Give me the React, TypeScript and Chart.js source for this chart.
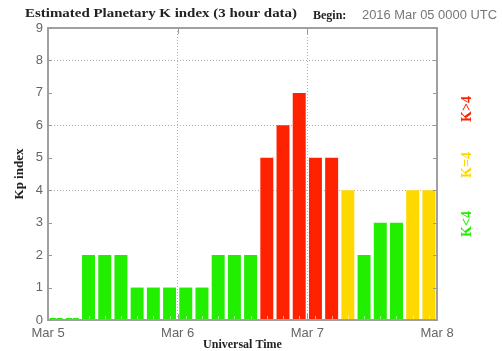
import React, { useEffect, useRef } from "react";
import { Chart, registerables } from "chart.js";

Chart.register(...registerables);

// ---- data ----
const dayLabels = ["Mar 5", "Mar 6", "Mar 7", "Mar 8"];
const kpValues = [0, 0, 2, 2, 2, 1, 1, 1, 1, 1, 2, 2, 2, 5, 6, 7, 5, 5, 4, 2, 3, 3, 4, 4];
const yTicks = [0, 1, 2, 3, 4, 5, 6, 7, 8, 9];
const titleText = "Estimated Planetary K index (3 hour data)";
const beginLabel = "Begin:";
const beginText = "2016 Mar 05 0000 UTC";
const yTitle = "Kp index";
const xTitle = "Universal Time";
const legendLabels = ["K>4", "K=4", "K<4"];

const GREEN = "#22ee00";
const YELLOW = "#ffd800";
const RED = "#ff2200";

function colorFor(v: number) {
  if (v > 4) return RED;
  if (v === 4) return YELLOW;
  return GREEN;
}

const SERIF_BOLD = "bold 13px 'Liberation Serif', 'DejaVu Serif', serif";

const decor = {
  id: "decor",
  beforeDraw(chart: any) {
    const ctx = chart.ctx;
    ctx.save();
    ctx.fillStyle = "#fff";
    ctx.fillRect(0, 0, chart.width, chart.height);
    ctx.restore();
  },
  afterDatasetsDraw(chart: any) {
    const ctx = chart.ctx;
    const a = chart.chartArea;
    const xs = chart.scales.x;
    const ys = chart.scales.y;
    ctx.save();
    // minor ticks at bottom (bar centres)
    ctx.strokeStyle = "rgba(255,255,255,0.55)";
    ctx.lineWidth = 1;
    kpValues.forEach((_, i) => {
      const px = Math.round(xs.getPixelForValue(i + 0.5)) + 0.5;
      ctx.beginPath();
      ctx.moveTo(px, a.bottom);
      ctx.lineTo(px, a.bottom - 4);
      ctx.stroke();
    });
    // frame
    ctx.strokeStyle = "#a0a0a0";
    ctx.lineWidth = 2;
    ctx.strokeRect(a.left, a.top, a.right - a.left, a.bottom - a.top);
    // y tick marks, inward, both sides
    ctx.lineWidth = 1;
    ctx.strokeStyle = "#999";
    yTicks.forEach((t) => {
      const py = Math.round(ys.getPixelForValue(t)) + 0.5;
      ctx.beginPath();
      ctx.moveTo(a.left, py);
      ctx.lineTo(a.left + 4, py);
      ctx.moveTo(a.right, py);
      ctx.lineTo(a.right - 4, py);
      ctx.stroke();
    });
    // day tick marks top & bottom
    [8, 16].forEach((v) => {
      const px = Math.round(xs.getPixelForValue(v)) + 0.5;
      ctx.beginPath();
      ctx.moveTo(px, a.top);
      ctx.lineTo(px, a.top + 6);
      ctx.moveTo(px, a.bottom);
      ctx.lineTo(px, a.bottom - 6);
      ctx.stroke();
    });
    ctx.restore();
  },
  afterDraw(chart: any) {
    const ctx = chart.ctx;
    ctx.save();
    ctx.textBaseline = "middle";
    ctx.textAlign = "left";
    // header
    ctx.fillStyle = "#222";
    ctx.font = SERIF_BOLD;
    const w = ctx.measureText(titleText).width;
    ctx.save();
    ctx.translate(25, 14);
    ctx.scale(272 / w, 1);
    ctx.fillText(titleText, 0, 0);
    ctx.restore();
    ctx.font = "bold 12px 'Liberation Serif', 'DejaVu Serif', serif";
    ctx.fillText(beginLabel, 313, 16);
    ctx.fillStyle = "#777";
    ctx.font = "12px 'Liberation Sans', Arial, sans-serif";
    const w2 = ctx.measureText(beginText).width;
    ctx.save();
    ctx.translate(362, 16);
    ctx.scale(135 / w2, 1);
    ctx.fillText(beginText, 0, 0);
    ctx.restore();
    // right side legend labels
    const cols = [RED, YELLOW, GREEN];
    const ypos = [109, 165, 224];
    ctx.font = "bold 14px 'Liberation Serif', 'DejaVu Serif', serif";
    ctx.textAlign = "center";
    legendLabels.forEach((t, i) => {
      ctx.save();
      ctx.translate(467, ypos[i]);
      ctx.rotate(-Math.PI / 2);
      ctx.fillStyle = cols[i];
      ctx.fillText(t, 0, 0);
      ctx.restore();
    });
    ctx.restore();
  },
};

export default function App() {
  const ref = useRef<HTMLCanvasElement>(null);
  useEffect(() => {
    document.body.style.margin = "0";
    const chart = new Chart(ref.current as HTMLCanvasElement, {
      type: "bar",
      data: {
        datasets: [
          {
            data: kpValues.map((v, i) => ({ x: i + 0.5, y: v })),
            backgroundColor: kpValues.map(colorFor),
            borderWidth: 0,
            minBarLength: 2,
            barPercentage: 0.8,
            categoryPercentage: 1,
          },
        ],
      },
      options: {
        responsive: false,
        animation: false,
        layout: { padding: { left: 8, right: 65, top: 28, bottom: 0 } },
        plugins: { legend: { display: false }, tooltip: { enabled: false } },
        scales: {
          x: {
            type: "linear",
            min: 0,
            max: 24,
            offset: false,
            afterFit: (s: any) => {
              s.height = 31;
            },
            afterBuildTicks: (s: any) => {
              s.ticks = [0, 8, 16, 24].map((v) => ({ value: v }));
            },
            ticks: {
              callback: (v: any) => dayLabels[Math.round(Number(v) / 8)],
              font: { size: 13, family: "'Liberation Sans', Arial, sans-serif" },
              color: "#666",
              padding: 6,
              maxRotation: 0,
              autoSkip: false,
            },
            grid: {
              offset: false,
              drawTicks: false,
              color: (c: any) => (c.tick && (c.tick.value === 8 || c.tick.value === 16) ? "#b0b0b0" : "rgba(0,0,0,0)"),
              lineWidth: 1,
            },
            border: { display: false, dash: [1, 2] },
            title: {
              display: true,
              text: xTitle,
              font: { size: 12, weight: "bold", family: "'Liberation Serif', 'DejaVu Serif', serif" },
              color: "#222",
              padding: { top: 0, bottom: -1 },
            },
          },
          y: {
            min: 0,
            max: 9,
            afterFit: (s: any) => {
              s.width = 40;
            },
            afterBuildTicks: (s: any) => {
              s.ticks = yTicks.map((v) => ({ value: v }));
            },
            ticks: {
              font: { size: 13, family: "'Liberation Sans', Arial, sans-serif" },
              color: "#666",
              padding: 5,
            },
            grid: {
              drawTicks: false,
              color: (c: any) => (c.tick && [4, 6, 8].includes(c.tick.value) ? "#b0b0b0" : "rgba(0,0,0,0)"),
              lineWidth: 1,
            },
            border: { display: false, dash: [1, 2] },
            title: {
              display: true,
              text: yTitle,
              font: { size: 13, weight: "bold", family: "'Liberation Serif', 'DejaVu Serif', serif" },
              color: "#222",
              padding: { top: 4, bottom: 0 },
            },
          },
        },
      },
      plugins: [decor],
    } as any);
    return () => chart.destroy();
  }, []);
  return (
    <div style={{ position: "fixed", left: 0, top: 0, width: 502, height: 351 }}>
      <canvas ref={ref} width={502} height={351} style={{ display: "block" }} />
    </div>
  );
}
